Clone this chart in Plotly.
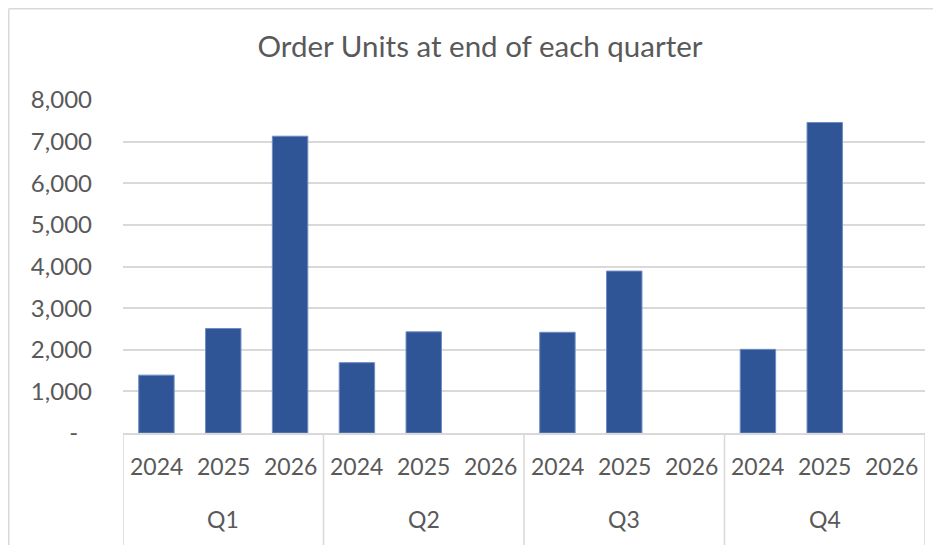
import plotly.graph_objects as go

quarters = ["Q1", "Q2", "Q3", "Q4"]
years = ["2024", "2025", "2026"]
units = [1390, 2510, 7130, 1690, 2430, None, 2420, 3890, None, 2010, 7460, None]
y_ticks = [0, 1000, 2000, 3000, 4000, 5000, 6000, 7000, 8000]
y_tick_text = ["-\u2007", "1,000", "2,000", "3,000", "4,000", "5,000", "6,000", "7,000", "8,000"]

FONT = "Lato"
TXT = "#595959"
GRID = "#D9D9D9"

# figure size and plot area geometry (pixels, figure coordinates;
# the page adds an 8px body margin)
W, H = 933, 537
L, R, T, B = 115, 917, 92, 425
PW, PH = R - L, B - T


def py(pix):
    """pixel row -> paper y"""
    return (B - pix) / PH


def px(pix):
    """pixel column -> paper x"""
    return (pix - L) / PW


cats = [f"{q} {y}" for q in quarters for y in years]

fig = go.Figure(
    go.Bar(
        x=cats,
        y=units,
        marker=dict(color="#2F5597", line=dict(color="#6F8CC4", width=1)),
        width=0.53,
    )
)

fig.update_layout(
    width=W,
    height=H,
    paper_bgcolor="white",
    plot_bgcolor="white",
    margin=dict(l=L, r=W - R, t=T, b=H - B, autoexpand=False),
    showlegend=False,
    font=dict(family=FONT, color=TXT, size=23),
    title=dict(
        text="Order Units at end of each quarter",
        x=472 / W,
        xref="container",
        xanchor="center",
        y=1 - 39 / H,
        yref="container",
        yanchor="middle",
        automargin=False,
        font=dict(family=FONT, size=29.5, color=TXT),
    ),
)

fig.update_yaxes(
    range=[0, 8000],
    tickvals=y_ticks,
    ticktext=y_tick_text,
    showgrid=True,
    gridcolor=GRID,
    gridwidth=1.5,
    zeroline=False,
    showline=False,
    ticks="",
    ticklabelstandoff=30,
    automargin=False,
    tickfont=dict(family=FONT, size=24, color=TXT),
    fixedrange=True,
)
fig.update_xaxes(
    type="category",
    categoryorder="array",
    categoryarray=cats,
    range=[-0.5, len(cats) - 0.5],
    showline=True,
    linecolor=GRID,
    linewidth=1.5,
    showticklabels=False,
    showgrid=False,
    ticks="",
    automargin=False,
    fixedrange=True,
)

# year labels (inner category level)
for c in cats:
    fig.add_annotation(x=c, xref="x", y=py(458), yref="paper", text=c.split(" ")[1],
                       showarrow=False, xanchor="center", yanchor="middle",
                       font=dict(family=FONT, size=23, color=TXT))
# quarter labels (outer category level)
for i, q in enumerate(quarters):
    fig.add_annotation(x=cats[i * len(years) + 1], xref="x", y=py(511), yref="paper", text=q,
                       showarrow=False, xanchor="center", yanchor="middle",
                       font=dict(family=FONT, size=23, color=TXT))
# group dividers
for k in range(len(quarters) + 1):
    xv = k * len(years) - 0.5
    fig.add_shape(type="line", xref="x", yref="paper", x0=xv, x1=xv,
                  y0=0, y1=py(H + 5), line=dict(color=GRID, width=1.5))

# chart frame (Excel chart area border, left and top edges)
fig.add_shape(type="line", xref="paper", yref="paper",
              x0=px(0.75), x1=px(W + 5), y0=py(0.75), y1=py(0.75),
              line=dict(color=GRID, width=1.5))
fig.add_shape(type="line", xref="paper", yref="paper",
              x0=px(0.75), x1=px(0.75), y0=py(0.75), y1=py(H + 5),
              line=dict(color=GRID, width=1.5))

fig.write_html("out.html")
